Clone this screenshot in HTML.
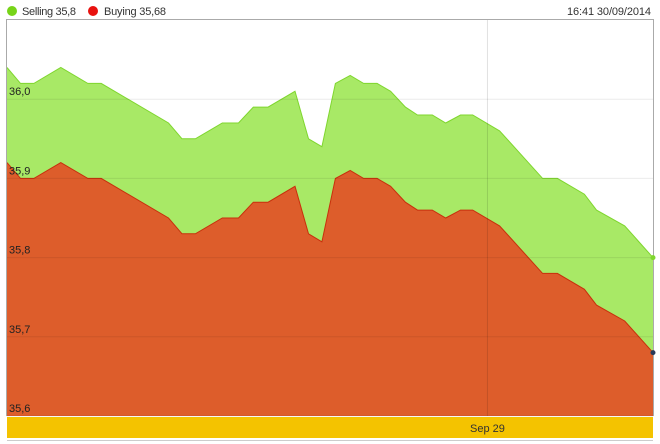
<!DOCTYPE html>
<html><head><meta charset="utf-8">
<style>
body{margin:0;background:#fff;width:660px;height:444px;overflow:hidden;font-family:"Liberation Sans",Arial,sans-serif;}
svg{display:block}
</style></head>
<body>
<svg id="chart" width="660" height="444">
  <g>
    <circle cx="12" cy="11" r="5" fill="#77d418"/>
    <text x="22" y="15" font-size="11" textLength="54" fill="#333">Selling 35,8</text>
    <circle cx="93" cy="11" r="5" fill="#e8120f"/>
    <text x="104" y="15" font-size="11" textLength="62" fill="#333">Buying 35,68</text>
  </g>
  <text x="567" y="15" font-size="11" textLength="84" fill="#333">16:41 30/09/2014</text>
  <g id="plot"></g>
</svg>
<script>
const times = [0,1,2,4,6,7,12,13,14,16,17.2,18.3,19.4,21.4,22.4,23.4,24.4,25.5,26.5,27.5,28.5,29.6,30.5,31.6,32.6,33.7,34.6,36.6,39.8,40.9,42.9,43.8,45.9,48];
const selling = [36.04,36.02,36.02,36.04,36.02,36.02,35.97,35.95,35.95,35.97,35.97,35.99,35.99,36.01,35.95,35.94,36.02,36.03,36.02,36.02,36.01,35.99,35.98,35.98,35.97,35.98,35.98,35.96,35.90,35.90,35.88,35.86,35.84,35.80];
const buying = [35.92,35.90,35.90,35.92,35.90,35.90,35.85,35.83,35.83,35.85,35.85,35.87,35.87,35.89,35.83,35.82,35.90,35.91,35.90,35.90,35.89,35.87,35.86,35.86,35.85,35.86,35.86,35.84,35.78,35.78,35.76,35.74,35.72,35.68];
const yTicks = [36.0,35.9,35.8,35.7,35.6];
const yTickLabels = ["36,0","35,9","35,8","35,7","35,6"];
const xTickTimes = [35.7];
const xTickLabels = ["Sep 29"];

const X0=7,X1=653,Y0=20,Y1=416,TMAX=48,VMIN=35.6,VMAX=36.1;
const x=t=>X0+(t/TMAX)*(X1-X0);
const y=v=>Y1-(v-VMIN)/(VMAX-VMIN)*(Y1-Y0);
const NS="http://www.w3.org/2000/svg";
const g=document.getElementById('plot');
function mk(tag,attrs){const e=document.createElementNS(NS,tag);for(const k in attrs)e.setAttribute(k,attrs[k]);g.appendChild(e);return e;}

let bg=mk('rect',{x:X0,y:Y0,width:X1-X0,height:Y1-Y0,fill:'#fff'});



function area(vals,fill,stroke,name){
  let d='M'+x(times[0])+','+Y1;
  vals.forEach((v,i)=>{d+=' L'+x(times[i]).toFixed(1)+','+y(v).toFixed(1);});
  d+=' L'+x(times[times.length-1])+','+Y1+' Z';
  const a=mk('path',{d:d,fill:fill});
  
  
  let l='';
  vals.forEach((v,i)=>{l+=(i?' L':'M')+x(times[i]).toFixed(1)+','+y(v).toFixed(1);});
  const p=mk('path',{d:l,fill:'none',stroke:stroke,'stroke-width':1});
  
  
}
area(selling,'#a8e966','#7fd62e','selling');
area(buying,'#dd5d2b','#c8300c','buying');

yTicks.forEach((v,i)=>{
  const ln=mk('line',{x1:X0,x2:X1,y1:y(v),y2:y(v),stroke:'rgba(0,0,0,0.08)','stroke-width':1});
  
  
  const t=mk('text',{x:9,y:y(v)-4,'font-size':11,fill:'#222'});
  t.textContent=yTickLabels[i];
  
  
});

const band=mk('rect',{x:X0,y:Y1+1,width:X1-X0,height:21,fill:'#f4c300'});



xTickTimes.forEach((tv,i)=>{
  const ln=mk('line',{x1:x(tv),x2:x(tv),y1:Y0,y2:Y1,stroke:'rgba(0,0,0,0.12)','stroke-width':1});
  
  
  const t=mk('text',{x:x(tv),y:Y1+16,'font-size':11,fill:'#333','text-anchor':'middle'});
  t.textContent=xTickLabels[i];
  
  
});

const frame=mk('path',{d:`M${X0-0.5},${Y1} L${X0-0.5},${Y0-0.5} L${X1+0.5},${Y0-0.5} L${X1+0.5},${Y1}`,fill:'none',stroke:'#aaa'});


const bl=mk('line',{x1:X0,x2:X1,y1:440.5,y2:440.5,stroke:'#ccc'});



const n=times.length-1;
const m1=mk('circle',{cx:x(times[n]),cy:y(selling[n]),r:2.5,fill:'#7fd62e'});


const m2=mk('circle',{cx:x(times[n]),cy:y(buying[n]),r:2.5,fill:'#2a3a5a'});


</script>
</body></html>
